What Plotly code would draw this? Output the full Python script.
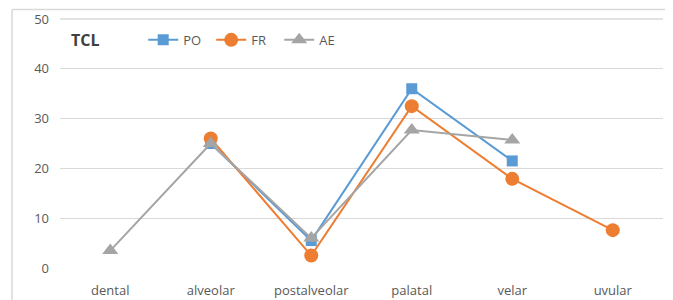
import plotly.graph_objects as go

categories = ["dental", "alveolar", "postalveolar", "palatal", "velar", "uvular"]
po_values = [None, 25, 5.5, 36, 21.5, None]
fr_values = [None, 26, 2.5, 32.5, 17.9, 7.6]
ae_values = [3.5, 25, 6, 27.7, 25.7, None]
y_ticks = [0, 10, 20, 30, 40, 50]

font_family = "Open Sans, Liberation Sans, sans-serif"
tick_color = "#595959"

fig = go.Figure()
fig.add_trace(go.Scatter(x=categories, y=po_values, name="PO", mode="lines+markers",
                         line=dict(color="#5B9BD5", width=2),
                         marker=dict(symbol="square", size=11, color="#5B9BD5"),
                         connectgaps=False))
fig.add_trace(go.Scatter(x=categories, y=fr_values, name="FR", mode="lines+markers",
                         line=dict(color="#ED7D31", width=2),
                         marker=dict(symbol="circle", size=14, color="#ED7D31"),
                         connectgaps=False))
fig.add_trace(go.Scatter(x=categories, y=ae_values, name="AE", mode="lines+markers",
                         line=dict(color="#A5A5A5", width=2),
                         marker=dict(symbol="triangle-up", size=14, color="#A5A5A5"),
                         connectgaps=False))

fig.update_layout(
    width=673, height=300,
    margin=dict(l=52, r=18, t=11, b=40),
    paper_bgcolor="white", plot_bgcolor="white",
    font=dict(family=font_family, size=13, color=tick_color),
    showlegend=True,
    legend=dict(orientation="h", x=0.138, y=0.916, xanchor="left", yanchor="middle",
                bgcolor="rgba(0,0,0,0)", font=dict(size=13, color=tick_color),
                itemwidth=30, tracegroupgap=0, entrywidth=23, entrywidthmode="pixels"),
    xaxis=dict(type="category", categoryorder="array", categoryarray=categories,
               range=[-0.5, 5.5], showgrid=False, zeroline=False, showline=False,
               ticks="", tickfont=dict(size=13, color=tick_color), ticklabelstandoff=13,
               automargin=False),
    yaxis=dict(range=[0, 50], tickvals=y_ticks, showgrid=True, gridcolor="#D9D9D9",
               gridwidth=1, zeroline=False, showline=False, ticks="",
               tickfont=dict(size=13, color=tick_color), ticklabelstandoff=10,
               automargin=False),
    annotations=[dict(text="<b>TCL</b>", xref="paper", yref="paper", x=0.043, y=0.916,
                      xanchor="center", yanchor="middle", showarrow=False,
                      font=dict(size=16, color="#404040", family=font_family))],
    shapes=[
        dict(type="line", xref="paper", yref="paper", x0=0, x1=1, y0=1, y1=1,
             line=dict(color="#D9D9D9", width=1.5), layer="above"),
        dict(type="line", xref="paper", yref="paper", x0=-0.0796, x1=1.05, y0=1.038, y1=1.038,
             line=dict(color="#D9D9D9", width=1.5), layer="above"),
        dict(type="line", xref="paper", yref="paper", x0=-0.0796, x1=-0.0796, y0=1.038, y1=-0.2,
             line=dict(color="#D9D9D9", width=1.5), layer="above"),
    ],
)

fig.write_html("out.html")
